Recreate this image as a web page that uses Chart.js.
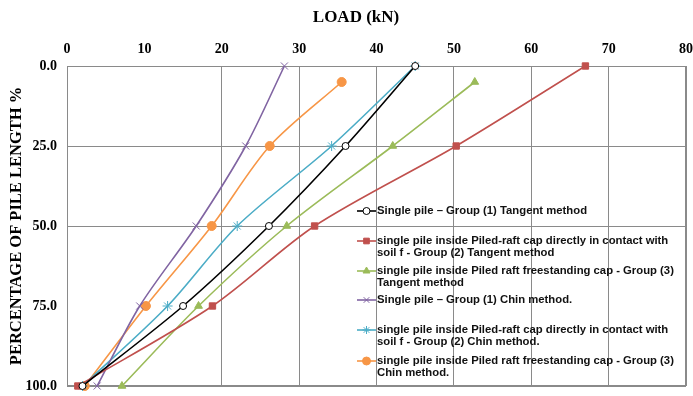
<!DOCTYPE html>
<html>
<head>
<meta charset="utf-8">
<script src="https://cdn.jsdelivr.net/npm/chart.js@4/dist/chart.umd.min.js"></script>
<style>
  html, body { margin: 0; padding: 0; background: #fff; }
  #wrap { width: 693px; height: 396px; }
</style>
</head>
<body>
<div id="wrap"><canvas id="pileChart"></canvas></div>
<script>
// 杭長さ方向の荷重分布 (Tangent / Chin method)

// ── データ ────────────────────────────────────────────
const depthFull = [0, 25, 50, 75, 100];
const depthTop5 = [5, 25, 50, 75, 100];

const loadG1Tangent = [45, 36, 26.1, 15, 2];
const loadG2Tangent = [67, 50.3, 32, 18.8, 1.4];
const loadG3Tangent = [52.7, 42.1, 28.4, 17, 7.1];
const loadG1Chin    = [28.1, 23.1, 16.7, 9.4, 3.9];
const loadG2Chin    = [45, 34.2, 22, 13, 2];
const loadG3Chin    = [35.5, 26.2, 18.7, 10.2, 2.3];

const xTicks = [0, 10, 20, 30, 40, 50, 60, 70, 80];
const yTicks = [0, 25, 50, 75, 100];

const xTitle = 'LOAD (kN)';
const yTitle = 'PERCENTAGE OF PILE LENGTH %';

const legendLabels = [
  ['Single pile \u2013 Group (1) Tangent method'],
  ['single pile inside Piled-raft cap directly in contact with', 'soil f - Group (2) Tangent method'],
  ['single pile inside Piled raft freestanding cap - Group (3)', 'Tangent method'],
  ['Single pile \u2013 Group (1) Chin method.'],
  ['single pile inside Piled-raft cap directly in contact with', 'soil f - Group (2) Chin method.'],
  ['single pile inside Piled raft freestanding cap - Group (3)', 'Chin method.'],
];

const toPts = (xs, ys) => xs.map((x, i) => ({ x, y: ys[i] }));

function series(label, xs, ys, color, style, radius, fill) {
  return {
    label,
    data: toPts(xs, ys),
    showLine: true,
    clip: false,
    borderColor: color,
    backgroundColor: fill || color,
    pointBorderColor: color,
    pointBackgroundColor: fill || color,
    pointStyle: style,
    pointRadius: radius,
    pointBorderWidth: 1,
    borderWidth: 1.6,
    tension: 0.3,
  };
}

const datasets = [
  series(legendLabels[0].join(' '), loadG1Tangent, depthFull, '#000000', 'circle', 3.5, '#ffffff'),
  series(legendLabels[1].join(' '), loadG2Tangent, depthFull, '#c0504d', 'rect', 4.5),
  series(legendLabels[2].join(' '), loadG3Tangent, depthTop5, '#9bbb59', 'triangle', 4.5),
  series(legendLabels[3].join(' '), loadG1Chin, depthFull, '#8064a2', 'crossRot', 5),
  series(legendLabels[4].join(' '), loadG2Chin, depthFull, '#4bacc6', 'star', 5),
  series(legendLabels[5].join(' '), loadG3Chin, depthTop5, '#f79646', 'circle', 4.5),
];

const gridColor = '#8a8a8a';
const serif = '"Liberation Serif", "Times New Roman", serif';

// ── 凡例・軸タイトル（グラフ内に描画） ─────────────────
const legendRowsY = [[211], [241, 253], [271, 283], [300], [330, 342], [361, 373]];

const innerLegend = {
  id: 'innerLegend',
  afterDraw(chart) {
    const ctx = chart.ctx;
    ctx.save();
    // X軸タイトル
    ctx.font = 'bold 17px ' + serif;
    ctx.textAlign = 'center';
    ctx.textBaseline = 'middle';
    ctx.fillStyle = '#000';
    ctx.fillText(xTitle, 356, 18);

    ctx.textAlign = 'left';
    ctx.font = 'bold 11.3px "Liberation Sans", Arial, sans-serif';
    legendLabels.forEach((lines, i) => {
      const ds = chart.data.datasets[i];
      const y0 = legendRowsY[i][0];
      ctx.strokeStyle = ds.borderColor;
      ctx.lineWidth = 1.6;
      ctx.beginPath();
      ctx.moveTo(357, y0);
      ctx.lineTo(376, y0);
      ctx.stroke();
      ctx.fillStyle = ds.pointBackgroundColor;
      ctx.strokeStyle = ds.pointBorderColor;
      ctx.lineWidth = 1;
      Chart.helpers.drawPoint(ctx, { pointStyle: ds.pointStyle, radius: Math.min(ds.pointRadius, 4), borderWidth: 1, rotation: 0 }, 366.5, y0);
      ctx.fillStyle = '#111';
      lines.forEach((t, j) => ctx.fillText(t, 377, legendRowsY[i][j]));
    });
    ctx.restore();
  }
};

// 枠線
const frame = {
  id: 'frame',
  beforeDatasetsDraw(chart) {
    const { ctx, chartArea: a } = chart;
    ctx.save();
    ctx.strokeStyle = gridColor;
    ctx.lineWidth = 1;
    ctx.strokeRect(a.left + 0.5, a.top + 0.5, a.right - a.left - 1, a.bottom - a.top - 1);
    ctx.restore();
  }
};

// ── グラフ ────────────────────────────────────────────
new Chart(document.getElementById('pileChart'), {
  type: 'scatter',
  data: { datasets },
  plugins: [frame, innerLegend],
  options: {
    responsive: true,
    maintainAspectRatio: false,
    animation: false,
    layout: { padding: { top: 0, right: 7, bottom: 10, left: 0 } },
    plugins: { legend: { display: false }, tooltip: { enabled: false } },
    scales: {
      x: {
        type: 'linear',
        position: 'top',
        min: 0, max: 80,
        afterBuildTicks: s => { s.ticks = xTicks.map(v => ({ value: v })); },
        afterFit: s => { s.height = 66; s.paddingLeft = 0; s.paddingRight = 0; },
        border: { color: gridColor },
        grid: {
          drawTicks: false,
          color: c => (c.tick && c.tick.value === 10 ? 'rgba(0,0,0,0)' : gridColor),
        },
        ticks: { padding: 8, maxRotation: 0, color: '#000', font: { family: serif, size: 14, weight: 'bold' } },
      },
      y: {
        type: 'linear',
        reverse: true,
        min: 0, max: 100,
        afterBuildTicks: s => { s.ticks = yTicks.map(v => ({ value: v })); },
        afterFit: s => { s.width = 67; s.paddingTop = 0; s.paddingBottom = 0; },
        border: { color: gridColor },
        grid: {
          drawTicks: false,
          color: c => (c.tick && c.tick.value === 75 ? 'rgba(0,0,0,0)' : gridColor),
        },
        ticks: {
          padding: 10, color: '#000',
          font: { family: serif, size: 14, weight: 'bold' },
          callback: v => Number(v).toFixed(1),
        },
        title: {
          display: true, text: yTitle, color: '#000',
          font: { family: serif, size: 16.5, weight: 'bold' },
          padding: { top: 7, bottom: 0 },
        },
      },
    },
  },
});
</script>
</body>
</html>
